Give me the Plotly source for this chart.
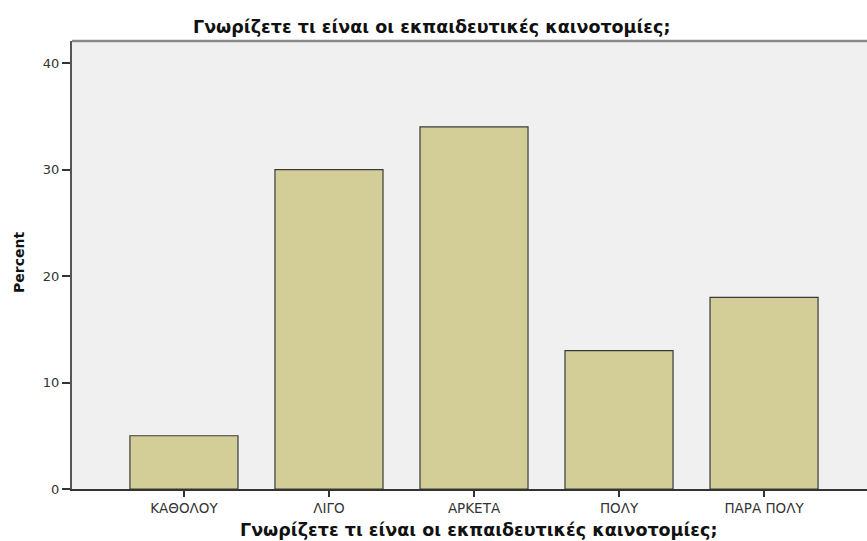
import plotly.graph_objects as go

categories = ["ΚΑΘΟΛΟΥ", "ΛΙΓΟ", "ΑΡΚΕΤΑ", "ΠΟΛΥ", "ΠΑΡΑ ΠΟΛΥ"]
percent = [5, 30, 34, 13, 18]
y_ticks = [0, 10, 20, 30, 40]
title_text = "Γνωρίζετε τι είναι οι εκπαιδευτικές καινοτομίες;"
y_title = "Percent"

W, H = 867, 541
L, R, T, B = 72, 0, 41, 52
pw, ph = W - L - R, H - T - B

def px_x(x):
    return (x - L) / pw

def px_y(y):
    return (H - B - y) / ph

fig = go.Figure(go.Bar(
    x=categories, y=percent, width=0.745,
    marker=dict(color="#d3ce98", line=dict(color="#3a3a3a", width=1.2)),
))

fig.update_layout(
    width=W, height=H,
    margin=dict(l=L, r=R, t=T, b=B, autoexpand=False),
    paper_bgcolor="white", plot_bgcolor="#f0f0f0",
    showlegend=False,
    font=dict(family="DejaVu Sans", color="#222"),
    xaxis=dict(
        type="category", range=[-0.772, 4.71],
        showline=True, linecolor="#333", linewidth=1.5,
        ticks="outside", ticklen=6, tickcolor="#333", tickwidth=1.5,
        tickfont=dict(size=13.5, family="DejaVu Sans", color="#333"),
        showgrid=False, zeroline=False,
    ),
    yaxis=dict(
        range=[0, 42.07], tickvals=y_ticks,
        showline=True, linecolor="#555", linewidth=2,
        ticks="outside", ticklen=8, tickcolor="#333", tickwidth=1.5,
        tickfont=dict(size=13, family="DejaVu Sans", color="#333"),
        showgrid=False, zeroline=False,
    ),
    shapes=[dict(type="line", xref="paper", yref="paper", x0=0, x1=1, y0=1, y1=1,
                 line=dict(color="#8a8a8a", width=2.5))],
    annotations=[
        dict(text="<b>" + title_text + "</b>", xref="paper", yref="paper",
             x=px_x(431), y=px_y(27), xanchor="center", yanchor="middle",
             showarrow=False, font=dict(size=17.5, family="DejaVu Sans", color="#111")),
        dict(text="<b>" + title_text + "</b>", xref="paper", yref="paper",
             x=px_x(478), y=px_y(530), xanchor="center", yanchor="middle",
             showarrow=False, font=dict(size=17.5, family="DejaVu Sans", color="#111")),
        dict(text="<b>" + y_title + "</b>", xref="paper", yref="paper",
             x=px_x(19), y=px_y(263), xanchor="center", yanchor="middle", textangle=-90,
             showarrow=False, font=dict(size=14, family="DejaVu Sans", color="#111")),
    ],
)

fig.write_html("out.html", config={"displayModeBar": False},
               post_script="document.body.style.margin='0';document.body.style.overflow='hidden';")
